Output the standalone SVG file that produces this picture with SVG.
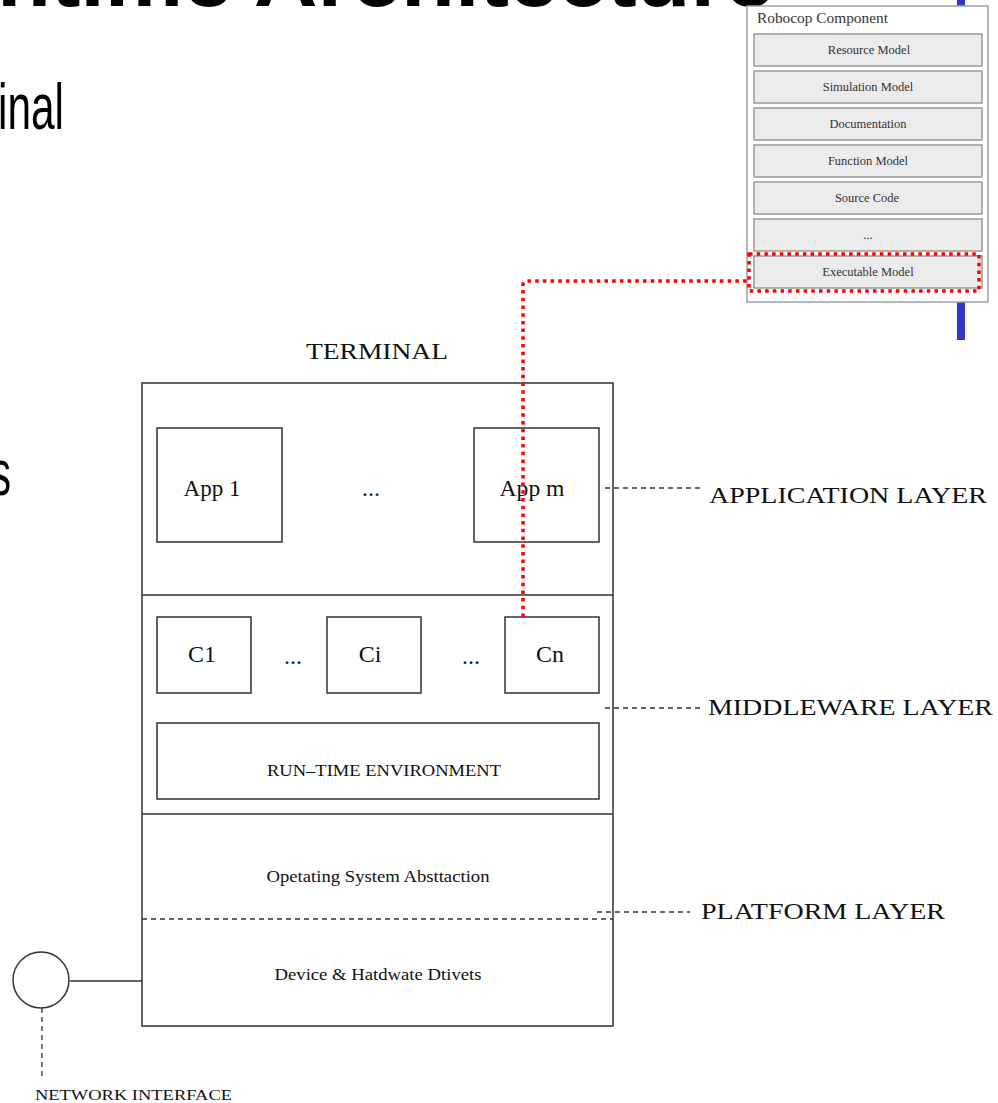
<svg xmlns="http://www.w3.org/2000/svg" width="998" height="1103" viewBox="0 0 998 1103">
  <style>
    .slide { font-family: "Liberation Sans", Arial, sans-serif; fill: #000; }
    .serif { font-family: "Liberation Serif", "Times New Roman", serif; fill: #111; }
    .mid { text-anchor: middle; }
    .box { fill: none; stroke: #333; stroke-width: 1.5; }
    .pbox { fill: #ececec; stroke: #9a9a9a; stroke-width: 1.5; }
    .ptxt { font-family: "Liberation Serif", "Times New Roman", serif; font-size: 12.5px; fill: #333; text-anchor: middle; }
    .dash { fill: none; stroke: #333; stroke-width: 1.3; stroke-dasharray: 5 4; }
    .red { fill: none; stroke: #ff0000; stroke-width: 3.5; stroke-dasharray: 3.5 4.2; }
  </style>

  <rect x="0" y="0" width="998" height="1103" fill="#ffffff"/>

  <!-- slide title and bullet text, clipped by the page edges -->
  <g id="slide-text">
    <text class="slide" x="-57" y="6" font-size="80" font-weight="bold" textLength="831" lengthAdjust="spacingAndGlyphs">untime Architecture</text>
    <text class="slide" x="-2" y="129" font-size="64" textLength="66" lengthAdjust="spacingAndGlyphs">inal</text>
    <text class="slide" x="-9" y="495" font-size="64" textLength="20" lengthAdjust="spacingAndGlyphs">s</text>
  </g>

  <!-- blue accent bar behind the component panel -->
  <rect id="accent-bar" x="957" y="0" width="8" height="340" fill="#3434c8"/>

  <!-- Robocop component panel -->
  <g id="robocop-component">
    <rect x="747" y="6" width="241" height="296" fill="#ffffff" stroke="#a0a0a0" stroke-width="1.5"/>
    <text class="serif" x="757" y="23" font-size="14.5" fill="#333" textLength="131" lengthAdjust="spacingAndGlyphs" style="fill:#333">Robocop Component</text>
    <g id="resource-model"><rect class="pbox" x="754" y="34" width="228" height="32"/><text class="ptxt" x="869" y="54">Resource Model</text></g>
    <g id="simulation-model"><rect class="pbox" x="754" y="71" width="228" height="32"/><text class="ptxt" x="868" y="91">Simulation Model</text></g>
    <g id="documentation"><rect class="pbox" x="754" y="108" width="228" height="32"/><text class="ptxt" x="868" y="128">Documentation</text></g>
    <g id="function-model"><rect class="pbox" x="754" y="145" width="228" height="32"/><text class="ptxt" x="868" y="165">Function Model</text></g>
    <g id="source-code"><rect class="pbox" x="754" y="182" width="228" height="32"/><text class="ptxt" x="867" y="202">Source Code</text></g>
    <g id="more-models"><rect class="pbox" x="754" y="219" width="228" height="32"/><text class="ptxt" x="868" y="239">...</text></g>
    <g id="executable-model"><rect class="pbox" x="754" y="256" width="228" height="32"/><text class="ptxt" x="868" y="276">Executable Model</text></g>
  </g>

  <text class="serif mid" x="377" y="359" font-size="24" textLength="142" lengthAdjust="spacingAndGlyphs">TERMINAL</text>

  <!-- terminal stack -->
  <g id="terminal">
    <rect class="box" x="142" y="383" width="471" height="643"/>
    <line class="box" x1="142" y1="595" x2="613" y2="595"/>
    <line class="box" x1="142" y1="814" x2="613" y2="814"/>
    <line class="dash" x1="142" y1="919" x2="613" y2="919"/>

    <g id="app-1"><rect class="box" x="157" y="428" width="125" height="114"/><text class="serif mid" x="212" y="496" font-size="24" textLength="57" lengthAdjust="spacingAndGlyphs">App 1</text></g>
    <text class="serif mid" x="371" y="496" font-size="24">...</text>
    <g id="app-m"><rect class="box" x="474" y="428" width="125" height="114"/><text class="serif mid" x="532" y="496" font-size="24" textLength="65" lengthAdjust="spacingAndGlyphs">App m</text></g>

    <g id="c1"><rect class="box" x="157" y="617" width="94" height="76"/><text class="serif mid" x="202" y="662" font-size="24">C1</text></g>
    <text class="serif mid" x="293" y="664" font-size="24">...</text>
    <g id="ci"><rect class="box" x="327" y="617" width="94" height="76"/><text class="serif mid" x="370" y="662" font-size="24">Ci</text></g>
    <text class="serif mid" x="471" y="664" font-size="24">...</text>
    <g id="cn"><rect class="box" x="505" y="617" width="94" height="76"/><text class="serif mid" x="550" y="662" font-size="24">Cn</text></g>

    <g id="run-time-environment"><rect class="box" x="157" y="723" width="442" height="76"/><text class="serif mid" x="384" y="776" font-size="17" textLength="234" lengthAdjust="spacingAndGlyphs">RUN–TIME ENVIRONMENT</text></g>

    <g id="os-abstraction"><text class="serif mid" x="378" y="882" font-size="17" textLength="223" lengthAdjust="spacingAndGlyphs">Opetating System Absttaction</text></g>
    <g id="drivers"><text class="serif mid" x="378" y="980" font-size="17" textLength="207" lengthAdjust="spacingAndGlyphs">Device &amp; Hatdwate Dtivets</text></g>
  </g>

  <!-- network interface -->
  <g id="network-interface">
    <circle cx="41" cy="980" r="28" fill="none" stroke="#333" stroke-width="1.5"/>
    <text class="serif" x="35" y="1100" font-size="14" textLength="197" lengthAdjust="spacingAndGlyphs">NETWORK INTERFACE</text>
  </g>

  <!-- layer labels -->
  <g id="layer-labels">
    <text class="serif" x="709" y="503" font-size="24" textLength="278" lengthAdjust="spacingAndGlyphs">APPLICATION LAYER</text>
    <text class="serif" x="708" y="715" font-size="24" textLength="285" lengthAdjust="spacingAndGlyphs">MIDDLEWARE LAYER</text>
    <text class="serif" x="701" y="919" font-size="24" textLength="244" lengthAdjust="spacingAndGlyphs">PLATFORM LAYER</text>
  </g>

  <!-- connectors -->
  <g id="connectors">
    <line class="dash" x1="605" y1="488" x2="700" y2="488"/>
    <line class="dash" x1="605" y1="708" x2="700" y2="708"/>
    <line class="dash" x1="597" y1="912" x2="690" y2="912"/>
    <line x1="70" y1="981" x2="142" y2="981" stroke="#333" stroke-width="1.5"/>
    <line class="dash" x1="42" y1="1008" x2="42" y2="1078"/>
    <rect class="red" x="749" y="254" width="230" height="37"/>
    <path class="red" d="M523,617 V285 Q523,281 527,281 H749"/>
  </g>
</svg>
